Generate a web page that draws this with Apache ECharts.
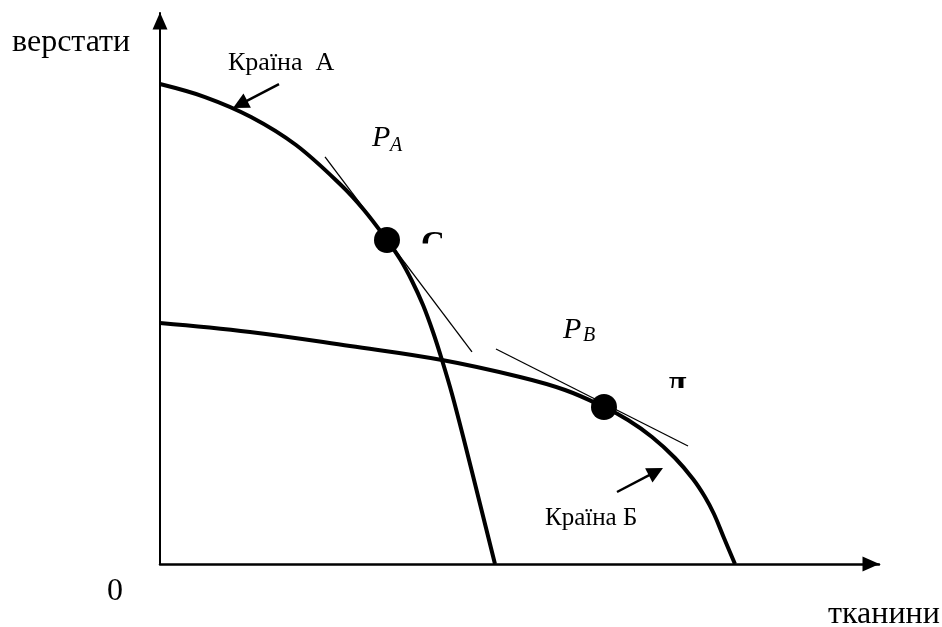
<!DOCTYPE html>
<html>
<head>
<meta charset="utf-8">
<script src="https://cdn.jsdelivr.net/npm/echarts@6/dist/echarts.min.js"></script>
<style>
  html, body { margin: 0; padding: 0; background: #fff; }
  #chart { width: 942px; height: 627px; }
</style>
</head>
<body>
<div id="chart"></div>
<script>
// Production possibility frontiers (machine tools vs. fabrics)
const curveA = [
  [0, 87.11], [6.26, 84.75], [12.66, 81.13], [18.92, 76.04], [25.17, 68.78],
  [28.37, 64.25], [31.57, 58.80], [33.38, 55.35], [35.05, 51.36], [36.58, 47.01],
  [37.97, 42.11], [39.22, 37.02], [40.61, 30.85], [42.42, 21.78], [44.51, 10.89],
  [46.59, 0]
];
const curveB = [
  [0, 43.74], [12.52, 42.11], [26.43, 39.56], [39.22, 37.02], [50.07, 33.94],
  [56.33, 31.58], [61.75, 28.49], [65.09, 26.13], [68.43, 23.05], [71.63, 19.24],
  [74.13, 15.43], [75.80, 12.16], [77.05, 9.07], [78.44, 4.72], [79.97, 0]
];
// Price lines tangent at the production points
const tangentA = [[22.95, 73.87], [43.39, 38.48]];
const tangentB = [[46.73, 39.02], [73.44, 21.42]];
// Production points C and Д
const pointC = [31.57, 58.80];
const pointD = [61.75, 28.49];
// Pointer arrows to each country's frontier (end = centre of the arrow head)
const arrowA = [[16.55, 87.11], [11.14, 83.43]];
const arrowB = [[63.56, 13.07], [68.97, 16.75]];

const yAxisTitle = 'верстати';
const xAxisTitle = 'тканини';
const originLabel = '0';
const countryA = 'Країна  А';
const countryB = 'Країна Б';

const FONT = '"Liberation Serif", "Times New Roman", serif';

const chart = echarts.init(document.getElementById('chart'), null, { renderer: 'canvas' });

const thin = { color: '#000', width: 1.3 };
const thick = { color: '#000', width: 4 };

chart.setOption({
  backgroundColor: '#fff',
  animation: false,
  grid: { left: 160, top: 13, right: 63, bottom: 63 },
  xAxis: {
    type: 'value', min: 0, max: 100,
    axisLine: { show: true, symbol: ['none', 'triangle'], symbolSize: [15, 17], symbolOffset: [0, -8],
      lineStyle: { color: '#000', width: 2.5 } },
    axisTick: { show: false }, axisLabel: { show: false }, splitLine: { show: false }
  },
  yAxis: {
    type: 'value', min: 0, max: 100,
    axisLine: { show: true, symbol: ['none', 'triangle'], symbolSize: [15, 17], symbolOffset: [0, -8],
      lineStyle: { color: '#000', width: 2 } },
    axisTick: { show: false }, axisLabel: { show: false }, splitLine: { show: false }
  },
  series: [
    { type: 'line', data: tangentA, showSymbol: false, lineStyle: thin, z: 2 },
    { type: 'line', data: tangentB, showSymbol: false, lineStyle: thin, z: 2 },
    { type: 'line', data: curveA, smooth: 0.35, showSymbol: false, lineStyle: thick, z: 3 },
    { type: 'line', data: curveB, smooth: 0.4, showSymbol: false, lineStyle: thick, z: 3 },
    { type: 'scatter', data: [pointC, pointD], symbolSize: 26,
      itemStyle: { color: '#000', opacity: 1 }, z: 4 },
    { type: 'lines', coordinateSystem: 'cartesian2d',
      data: [{ coords: arrowA }, { coords: arrowB }],
      symbol: ['none', 'triangle'], symbolSize: [13, 16],
      lineStyle: { color: '#000', width: 2.5, opacity: 1 }, z: 4 }
  ],
  graphic: [
    { type: 'text', x: 12, y: 43, z: 10,
      style: { text: yAxisTitle, font: '32px ' + FONT, fill: '#000', textVerticalAlign: 'middle' } },
    { type: 'text', x: 107, y: 592, z: 10,
      style: { text: originLabel, font: '32px ' + FONT, fill: '#000', textVerticalAlign: 'middle' } },
    { type: 'text', x: 828, y: 615, z: 10,
      style: { text: xAxisTitle, font: '32px ' + FONT, fill: '#000', textVerticalAlign: 'middle' } },
    { type: 'text', x: 228, y: 63, z: 10,
      style: { text: countryA, font: '26px ' + FONT, fill: '#000', textVerticalAlign: 'middle' } },
    { type: 'text', x: 545, y: 518, z: 10,
      style: { text: countryB, font: '25px ' + FONT, fill: '#000', textVerticalAlign: 'middle' } },
    { type: 'text', x: 372, y: 138, z: 10,
      style: { text: 'P', font: 'italic 30px ' + FONT, fill: '#000', textVerticalAlign: 'middle' } },
    { type: 'text', x: 390, y: 146, z: 10,
      style: { text: 'A', font: 'italic 20px ' + FONT, fill: '#000', textVerticalAlign: 'middle' } },
    { type: 'text', x: 563, y: 330, z: 10,
      style: { text: 'P', font: 'italic 30px ' + FONT, fill: '#000', textVerticalAlign: 'middle' } },
    { type: 'text', x: 583, y: 336, z: 10,
      style: { text: 'B', font: 'italic 20px ' + FONT, fill: '#000', textVerticalAlign: 'middle' } },
    // point letters, partly hidden behind their label boxes
    { type: 'text', x: 421, y: 245, z: 10,
      style: { text: 'С', font: 'bold 33px ' + FONT, fill: '#000', textVerticalAlign: 'middle' } },
    { type: 'rect', shape: { x: 416, y: 243.5, width: 36, height: 22 }, z: 11,
      style: { fill: '#fff' } },
    { type: 'text', x: 665, y: 390, z: 10,
      style: { text: 'Д', font: 'bold 32px ' + FONT, fill: '#000', textVerticalAlign: 'middle' } },
    { type: 'rect', shape: { x: 660, y: 388, width: 30, height: 24 }, z: 11,
      style: { fill: '#fff' } }
  ]
});
</script>
</body>
</html>
